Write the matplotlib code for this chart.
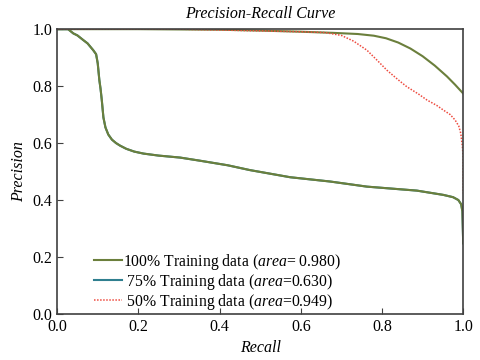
import numpy as np
import matplotlib
matplotlib.use("Agg")
import matplotlib.pyplot as plt

plt.rcParams['font.family'] = ['Liberation Serif', 'DejaVu Serif']
plt.rcParams['mathtext.fontset'] = 'custom'
plt.rcParams['mathtext.it'] = 'Liberation Serif:italic'
plt.rcParams['mathtext.rm'] = 'Liberation Serif'

# 100% training data (upper curve)
r100 = [0.0, 0.2, 0.4, 0.5, 0.6, 0.68, 0.74, 0.78, 0.81, 0.84, 0.87, 0.9,
        0.93, 0.96, 0.98, 1.0]
p100 = [1.0, 1.0, 0.998, 0.995, 0.991, 0.987, 0.983, 0.977, 0.968, 0.953,
        0.932, 0.905, 0.872, 0.834, 0.805, 0.774]

# 75% training data (lower curve)
r75 = [0.0, 0.027, 0.04, 0.05, 0.065, 0.075, 0.089, 0.096, 0.100, 0.104, 0.107,
       0.110, 0.114, 0.119, 0.126, 0.135, 0.145, 0.155, 0.17, 0.19, 0.213,
       0.25, 0.303, 0.352, 0.42, 0.475, 0.574, 0.672, 0.763, 0.886, 0.951,
       0.975, 0.988, 0.995, 0.998, 1.0]
p75 = [1.0, 1.0, 0.985, 0.978, 0.961, 0.950, 0.926, 0.912, 0.88, 0.821, 0.79,
       0.751, 0.690, 0.655, 0.630, 0.612, 0.600, 0.591, 0.580, 0.570, 0.563,
       0.556, 0.549, 0.538, 0.522, 0.505, 0.480, 0.465, 0.447, 0.433, 0.418,
       0.410, 0.400, 0.385, 0.360, 0.248]

# 50% training data (dotted)
r50 = [0.0, 0.3, 0.599, 0.66, 0.70, 0.73, 0.763, 0.79, 0.812, 0.84, 0.861,
       0.89, 0.911, 0.935, 0.951, 0.968, 0.980, 0.989, 0.994, 0.998, 1.0, 1.0]
p50 = [1.0, 1.0, 0.991, 0.988, 0.978, 0.958, 0.926, 0.888, 0.856, 0.822,
       0.798, 0.772, 0.751, 0.732, 0.716, 0.700, 0.681, 0.660, 0.634, 0.587,
       0.55, 0.423]

olive = '#6b7f3c'
teal = '#2f7f8f'
red = '#ee4c40'

fig = plt.figure(figsize=(4.8, 3.6), dpi=100)
ax = fig.add_axes([0.119, 0.128, 0.846, 0.791])

ax.plot(r100, p100, color=olive, lw=1.5,
        label=r'100% Training data ($\it{area}$= 0.980)')
ax.plot(r75, p75, color=teal, lw=1.5,
        label=r' 75% Training data ($\it{area}$=0.630)')
ax.plot(r75, p75, color=olive, lw=1.5)
ax.plot(r50, p50, color=red, lw=1.1, ls=(0, (1, 1)),
        label=r' 50% Training data ($\it{area}$=0.949)')

ax.set_xlim(0, 1)
ax.set_ylim(0, 1)
ax.set_xticks(np.arange(0, 1.01, 0.2))
ax.set_yticks(np.arange(0, 1.01, 0.2))
ax.xaxis.set_major_formatter(matplotlib.ticker.FormatStrFormatter('%.1f'))
ax.yaxis.set_major_formatter(matplotlib.ticker.FormatStrFormatter('%.1f'))
ax.tick_params(direction='in', length=4, labelsize=11.5, color='#404040')
for s in ax.spines.values():
    s.set_color('#404040')
    s.set_linewidth(1.2)

ax.set_title('Precision-Recall Curve', fontstyle='italic', fontsize=11.5, pad=8)
ax.set_xlabel('Recall', fontstyle='italic', fontsize=11.5)
ax.set_ylabel('Precision', fontstyle='italic', fontsize=11.5)

ax.legend(loc='lower left', bbox_to_anchor=(0.09, 0.008), frameon=False,
          fontsize=11.3, handlelength=1.8, handletextpad=0.1, labelspacing=0.0,
          borderpad=0, borderaxespad=0)

fig.savefig('out.png', dpi=100)
